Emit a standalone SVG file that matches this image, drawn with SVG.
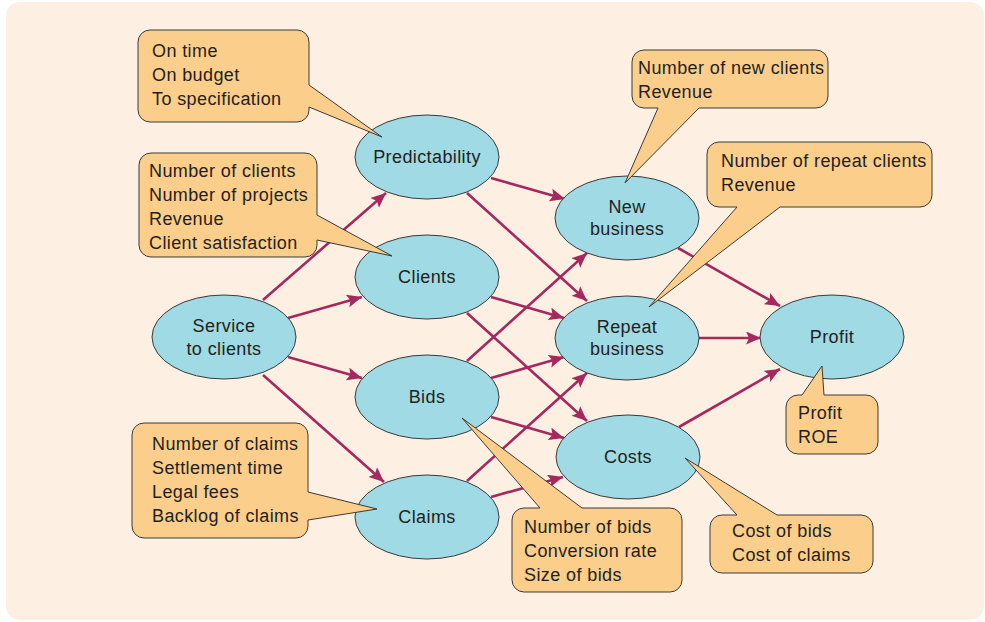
<svg xmlns="http://www.w3.org/2000/svg" width="985" height="622" viewBox="0 0 985 622">
<style>
.bg{fill:#FDF0E2}
.node ellipse{fill:#A0DAE4;stroke:#3a3a3a;stroke-width:1}
.node text{font-family:"Liberation Sans",Arial,sans-serif;font-size:18px;letter-spacing:0.4px;fill:#231F20;text-anchor:middle}
.call path{fill:#FCCE8C;stroke:#3a3a3a;stroke-width:1;stroke-linejoin:miter}
.call text{font-family:"Liberation Sans",Arial,sans-serif;font-size:18px;letter-spacing:0.4px;fill:#231F20}
#connectors line{stroke:#A5285E;stroke-width:2.6;fill:none;marker-end:url(#ah)}
</style>
<defs>
<marker id="ah" markerUnits="userSpaceOnUse" markerWidth="16" markerHeight="14" refX="15" refY="6.5" orient="auto">
<path d="M0,0 L15,6.5 L0,13 L3,6.5 Z" fill="#A5285E"/>
</marker>
</defs>
<rect class="bg" x="6" y="2" width="978" height="618" rx="14"/>

<g id="connectors">
<line x1="263" y1="300" x2="386" y2="193"/>
<line x1="288" y1="318" x2="362" y2="297"/>
<line x1="288" y1="357" x2="362" y2="378"/>
<line x1="263" y1="375" x2="384" y2="482"/>
<line x1="491" y1="178" x2="565" y2="199"/>
<line x1="467" y1="193" x2="587" y2="301"/>
<line x1="491" y1="297" x2="564" y2="318"/>
<line x1="467" y1="313" x2="587" y2="421"/>
<line x1="467" y1="361" x2="587" y2="253"/>
<line x1="491" y1="378" x2="564" y2="357"/>
<line x1="491" y1="417" x2="564" y2="438"/>
<line x1="467" y1="481" x2="587" y2="373"/>
<line x1="491" y1="497" x2="563" y2="477"/>
<line x1="678" y1="248" x2="780" y2="306"/>
<line x1="699" y1="338" x2="761" y2="338"/>
<line x1="679" y1="427" x2="780" y2="369"/>
</g>

<g id="service" class="node"><ellipse cx="224" cy="337" rx="72" ry="42"/><text x="224" y="332">Service</text><text x="224" y="355">to clients</text></g>
<g id="predictability" class="node"><ellipse cx="427" cy="157" rx="72" ry="42"/><text x="427" y="163">Predictability</text></g>
<g id="clients" class="node"><ellipse cx="427" cy="277" rx="72" ry="42"/><text x="427" y="283">Clients</text></g>
<g id="bids" class="node"><ellipse cx="427" cy="397" rx="72" ry="42"/><text x="427" y="403">Bids</text></g>
<g id="claims" class="node"><ellipse cx="427" cy="517" rx="72" ry="42"/><text x="427" y="523">Claims</text></g>
<g id="newbusiness" class="node"><ellipse cx="627" cy="218" rx="72" ry="42"/><text x="627" y="213">New</text><text x="627" y="235">business</text></g>
<g id="repeatbusiness" class="node"><ellipse cx="627" cy="338" rx="72" ry="42"/><text x="627" y="333">Repeat</text><text x="627" y="355">business</text></g>
<g id="costs" class="node"><ellipse cx="628" cy="457" rx="72" ry="42"/><text x="628" y="463">Costs</text></g>
<g id="profit" class="node"><ellipse cx="832" cy="337" rx="72" ry="42"/><text x="832" y="343">Profit</text></g>

<g id="callout-predictability" class="call">
<path d="M150,30 H297 A12,12 0 0 1 309,42 V85 L382,137 L309,107 V110 A12,12 0 0 1 297,122 H150 A12,12 0 0 1 138,110 V42 A12,12 0 0 1 150,30 Z"/>
<text x="152" y="57">On time</text><text x="152" y="81">On budget</text><text x="152" y="105">To specification</text>
</g>
<g id="callout-clients" class="call">
<path d="M151,153 H305 A12,12 0 0 1 317,165 V215 L392,256 L317,240 V245 A12,12 0 0 1 305,257 H151 A12,12 0 0 1 139,245 V165 A12,12 0 0 1 151,153 Z"/>
<text x="149" y="177">Number of clients</text><text x="149" y="201">Number of projects</text><text x="149" y="225">Revenue</text><text x="149" y="249">Client satisfaction</text>
</g>
<g id="callout-new" class="call">
<path d="M644,50 H816 A12,12 0 0 1 828,62 V96 A12,12 0 0 1 816,108 H699 L625,183 L658,108 H644 A12,12 0 0 1 632,96 V62 A12,12 0 0 1 644,50 Z"/>
<text x="638" y="74">Number of new clients</text><text x="638" y="98">Revenue</text>
</g>
<g id="callout-repeat" class="call">
<path d="M719,142 H920 A12,12 0 0 1 932,154 V195 A12,12 0 0 1 920,207 H780 L649,307 L737,207 H719 A12,12 0 0 1 707,195 V154 A12,12 0 0 1 719,142 Z"/>
<text x="721" y="167">Number of repeat clients</text><text x="721" y="191">Revenue</text>
</g>
<g id="callout-claims" class="call">
<path d="M144,423 H296 A12,12 0 0 1 308,435 V492 L377,509 L308,520 V526 A12,12 0 0 1 296,538 H144 A12,12 0 0 1 132,526 V435 A12,12 0 0 1 144,423 Z"/>
<text x="152" y="450">Number of claims</text><text x="152" y="474">Settlement time</text><text x="152" y="498">Legal fees</text><text x="152" y="522">Backlog of claims</text>
</g>
<g id="callout-bids" class="call">
<path d="M524,508 H540 L462,418 L582,508 H670 A12,12 0 0 1 682,520 V580 A12,12 0 0 1 670,592 H524 A12,12 0 0 1 512,580 V520 A12,12 0 0 1 524,508 Z"/>
<text x="524" y="533">Number of bids</text><text x="524" y="557">Conversion rate</text><text x="524" y="581">Size of bids</text>
</g>
<g id="callout-costs" class="call">
<path d="M722,515 H737 L685,458 L777,515 H861 A12,12 0 0 1 873,527 V561 A12,12 0 0 1 861,573 H722 A12,12 0 0 1 710,561 V527 A12,12 0 0 1 722,515 Z"/>
<text x="732" y="537">Cost of bids</text><text x="732" y="561">Cost of claims</text>
</g>
<g id="callout-profit" class="call">
<path d="M798,395 H802 L822,366 L824,395 H866 A12,12 0 0 1 878,407 V442 A12,12 0 0 1 866,454 H798 A12,12 0 0 1 786,442 V407 A12,12 0 0 1 798,395 Z"/>
<text x="798" y="419">Profit</text><text x="798" y="443">ROE</text>
</g>
</svg>
